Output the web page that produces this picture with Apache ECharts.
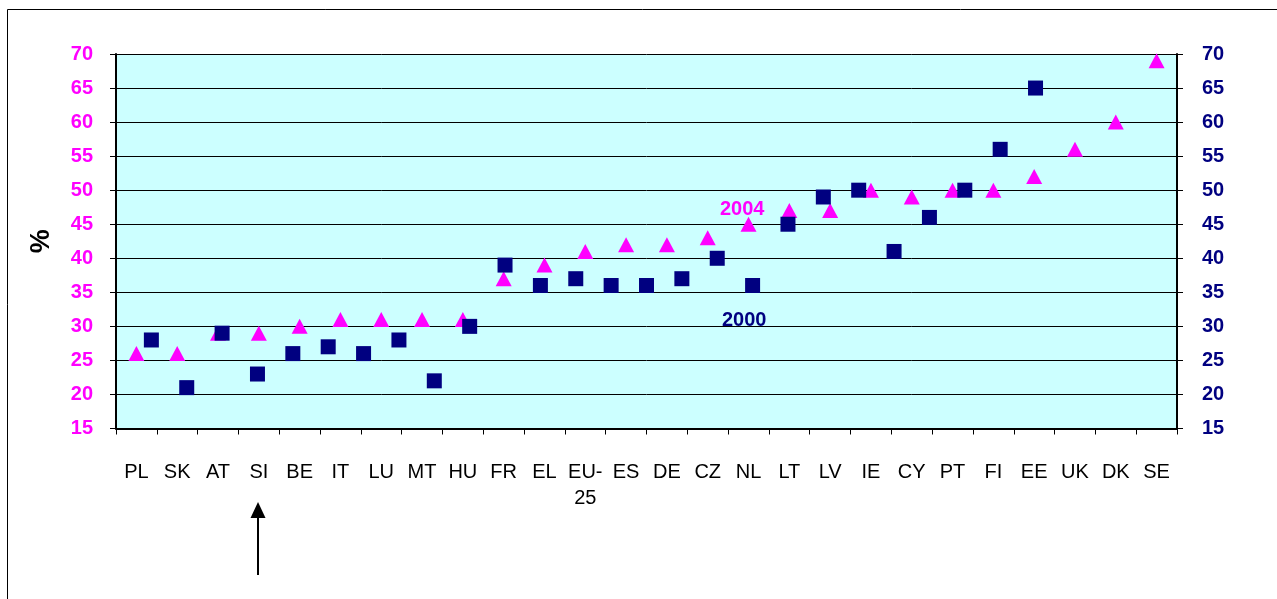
<!DOCTYPE html>
<html>
<head>
<meta charset="utf-8">
<script src="https://cdn.jsdelivr.net/npm/echarts@6/dist/echarts.min.js"></script>
<style>
html,body{margin:0;padding:0;background:#fff;}
#chart{width:1277px;height:599px;}
</style>
</head>
<body>
<div id="chart"></div>
<script>
const categories = ['PL','SK','AT','SI','BE','IT','LU','MT','HU','FR','EL','EU-\n25','ES','DE','CZ','NL','LT','LV','IE','CY','PT','FI','EE','UK','DK','SE'];
const values2004 = [26,26,29,29,30,31,31,31,31,37,39,41,42,42,43,45,47,47,50,49,50,50,52,56,60,69];
const values2000 = [28,21,29,23,26,27,26,28,22,30,39,36,37,36,36,37,40,36,45,49,50,41,46,50,56,65];
const yMin = 15, yMax = 70, yStep = 5;
const seriesNames = ['2004', '2000'];

const FONT = "'Liberation Sans', Arial, sans-serif";
const MAGENTA = '#FF00FF';
const NAVY = '#000080';

const chart = echarts.init(document.getElementById('chart'), null, {renderer: 'canvas'});

const yCommon = {
  type: 'value', min: yMin, max: yMax, interval: yStep,
  axisLine: {show: true, lineStyle: {color: '#000', width: 2}},
  axisTick: {show: true, length: 6, lineStyle: {color: '#000', width: 1}},
};

chart.setOption({
  animation: false,
  grid: {left: 116, right: 100, top: 54, bottom: 170.5, show: true, backgroundColor: '#CCFFFF', borderWidth: 0},
  xAxis: [{
    type: 'category', data: categories, boundaryGap: true, position: 'bottom',
    axisLine: {show: true, onZero: false, lineStyle: {color: '#000', width: 2}},
    axisTick: {show: true, length: 6, alignWithLabel: false, lineStyle: {color: '#000', width: 1}},
    axisLabel: {interval: 0, color: '#000', fontFamily: FONT, fontSize: 20, margin: 31, lineHeight: 26},
    splitLine: {show: false}
  }, {
    type: 'value', min: 0, max: 30, show: false, position: 'top',
    splitLine: {show: false}
  }],
  yAxis: [Object.assign({}, yCommon, {
    position: 'left',
    name: '%', nameLocation: 'middle', nameRotate: 90, nameGap: 61, nameMoveOverlap: false,
    nameTextStyle: {color: '#000', fontFamily: FONT, fontSize: 27, fontWeight: 'bold'},
    axisLabel: {color: MAGENTA, fontFamily: FONT, fontSize: 20, fontWeight: 'bold', margin: 23},
    splitLine: {show: true, lineStyle: {color: '#000', width: 1}}
  }), Object.assign({}, yCommon, {
    position: 'right',
    axisLabel: {color: NAVY, fontFamily: FONT, fontSize: 20, fontWeight: 'bold', margin: 25},
    splitLine: {show: false}
  })],
  series: [{
    name: seriesNames[0], type: 'scatter', xAxisIndex: 0, yAxisIndex: 0,
    symbol: 'triangle', symbolSize: [16, 15],
    itemStyle: {color: MAGENTA, opacity: 1},
    data: values2004, z: 2
  }, {
    name: seriesNames[1], type: 'scatter', xAxisIndex: 1, yAxisIndex: 0,
    symbol: 'rect', symbolSize: 15,
    itemStyle: {color: NAVY, opacity: 1},
    data: values2000.map((v, i) => [i + 1, v]), z: 3
  }],
  graphic: [
    {type: 'rect', silent: true, shape: {x: 7.5, y: 9.5, width: 1400, height: 800}, style: {fill: 'none', stroke: '#000', lineWidth: 1}},
    {type: 'text', left: 720, top: 199, style: {text: seriesNames[0], fill: MAGENTA, font: "bold 20px 'Liberation Sans', Arial, sans-serif"}},
    {type: 'text', left: 722, top: 310, style: {text: seriesNames[1], fill: NAVY, font: "bold 20px 'Liberation Sans', Arial, sans-serif"}},
    {type: 'line', shape: {x1: 258, y1: 575, x2: 258, y2: 514}, style: {stroke: '#000', lineWidth: 2}},
    {type: 'polygon', shape: {points: [[258, 502], [250.5, 518], [265.5, 518]]}, style: {fill: '#000'}}
  ]
});
</script>
</body>
</html>
